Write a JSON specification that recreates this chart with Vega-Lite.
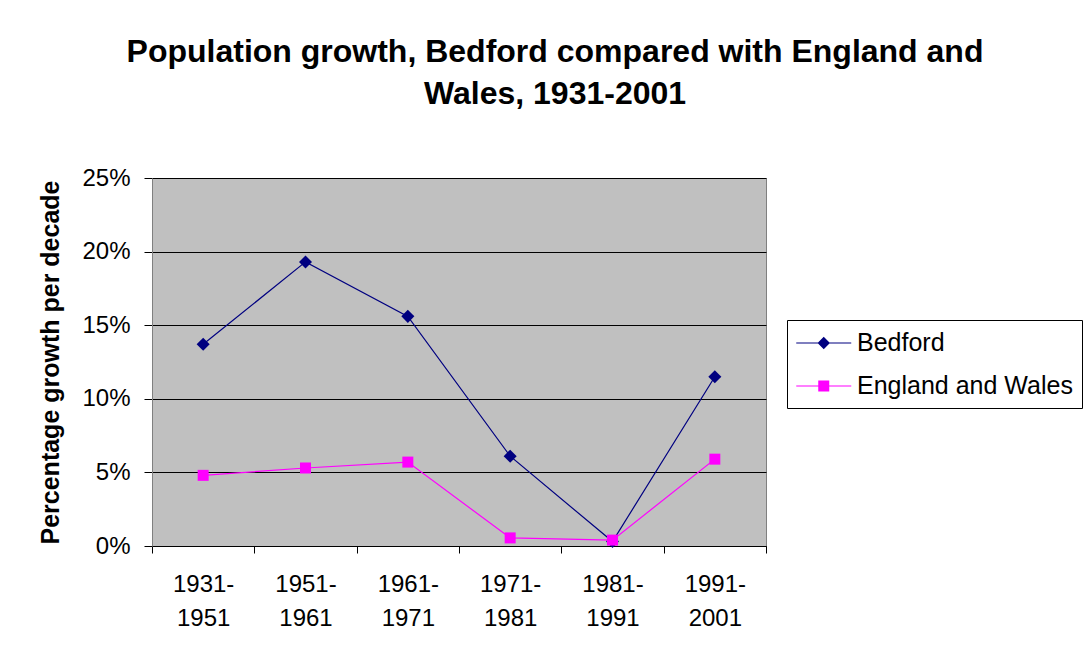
{
  "$schema": "https://vega.github.io/schema/vega-lite/v6.json",
  "width": 614,
  "height": 368,
  "autosize": {"type": "none"},
  "padding": {"left": 152, "top": 178, "right": 319, "bottom": 111},
  "background": "white",
  "config": {
    "font": "Liberation Sans",
    "view": {"fill": "#C0C0C0", "stroke": "#808080", "strokeWidth": 1}
  },
  "title": {
    "text": ["Population growth, Bedford compared with England and", "Wales, 1931-2001"],
    "font": "Liberation Sans",
    "fontSize": 32,
    "fontWeight": "bold",
    "color": "black",
    "lineHeight": 42,
    "anchor": "middle",
    "frame": "group",
    "dx": 96,
    "baseline": "alphabetic",
    "offset": 30
  },
  "data": {
    "values": [
      {"period": "1931-1951", "series": "Bedford", "growth": 0.137},
      {"period": "1951-1961", "series": "Bedford", "growth": 0.193},
      {"period": "1961-1971", "series": "Bedford", "growth": 0.156},
      {"period": "1971-1981", "series": "Bedford", "growth": 0.061},
      {"period": "1981-1991", "series": "Bedford", "growth": 0.003},
      {"period": "1991-2001", "series": "Bedford", "growth": 0.115},
      {"period": "1931-1951", "series": "England and Wales", "growth": 0.048},
      {"period": "1951-1961", "series": "England and Wales", "growth": 0.053},
      {"period": "1961-1971", "series": "England and Wales", "growth": 0.057},
      {"period": "1971-1981", "series": "England and Wales", "growth": 0.0055},
      {"period": "1981-1991", "series": "England and Wales", "growth": 0.004},
      {"period": "1991-2001", "series": "England and Wales", "growth": 0.059}
    ]
  },
  "encoding": {
    "x": {
      "field": "period",
      "type": "ordinal",
      "sort": null,
      "scale": {"type": "band", "paddingInner": 0, "paddingOuter": 0},
      "axis": {
        "title": null,
        "labelAngle": 0,
        "labelFont": "Liberation Sans",
        "labelFontSize": 24,
        "labelColor": "black",
        "labelLineHeight": 34,
        "labelExpr": "[slice(datum.label, 0, 5), slice(datum.label, 5)]",
        "labelPadding": 19,
        "tickBand": "extent",
        "tickColor": "black",
        "tickSize": 7,
        "domainColor": "black",
        "domainWidth": 1,
        "grid": false
      }
    },
    "y": {
      "field": "growth",
      "type": "quantitative",
      "scale": {"domain": [0, 0.25], "nice": false, "zero": true},
      "axis": {
        "title": "Percentage growth per decade",
        "titleFont": "Liberation Sans",
        "titleFontSize": 25,
        "titleFontWeight": "bold",
        "titleColor": "black",
        "titlePadding": 18,
        "values": [0, 0.05, 0.1, 0.15, 0.2, 0.25],
        "format": ".0%",
        "labelFont": "Liberation Sans",
        "labelFontSize": 24,
        "labelColor": "black",
        "labelPadding": 14,
        "tickColor": "black",
        "tickSize": 8,
        "domainColor": "#808080",
        "grid": true,
        "gridColor": "black",
        "gridWidth": 1,
        "gridOpacity": 1
      }
    },
    "color": {
      "field": "series",
      "type": "nominal",
      "scale": {"domain": ["Bedford", "England and Wales"], "range": ["#000080", "#FF00FF"]},
      "legend": {
        "title": null,
        "orient": "none",
        "legendX": 635,
        "legendY": 142,
        "padding": 9,
        "rowPadding": 16,
        "strokeColor": "black",
        "fillColor": "white",
        "labelFont": "Liberation Sans",
        "labelFontSize": 25,
        "labelColor": "black",
        "labelOffset": 33,
        "labelLimit": 400,
        "symbolSize": 756,
        "symbolOpacity": 1,
        "encode": {
          "symbols": {
            "update": {
              "shape": {"signal": "datum.value === 'Bedford' ? 'M-1,-0.04L3,-0.04L3,0.04L-1,0.04Z M1,-0.45L1.45,0L1,0.45L0.55,0Z' : 'M-1,-0.04L3,-0.04L3,0.04L-1,0.04Z M0.6,-0.4L1.4,-0.4L1.4,0.4L0.6,0.4Z'"},
              "fill": {"scale": "color", "field": "value"},
              "strokeWidth": {"value": 0},
              "opacity": {"value": 1},
              "fillOpacity": {"value": 1}
            }
          }
        }
      }
    }
  },
  "layer": [
    {"mark": {"type": "line", "strokeWidth": 1.2}},
    {
      "transform": [{"filter": "datum.series === 'Bedford'"}],
      "mark": {"type": "point", "shape": "diamond", "filled": true, "size": 170, "opacity": 1}
    },
    {
      "transform": [{"filter": "datum.series === 'England and Wales'"}],
      "mark": {"type": "point", "shape": "square", "filled": true, "size": 121, "opacity": 1}
    }
  ]
}
